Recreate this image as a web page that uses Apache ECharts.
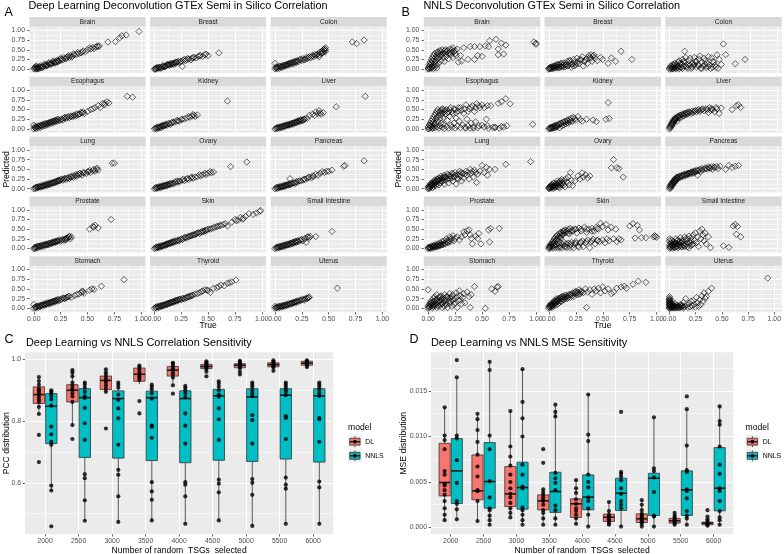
<!DOCTYPE html>
<html><head><meta charset="utf-8">
<script src="https://cdn.jsdelivr.net/npm/echarts@6/dist/echarts.min.js"></script>
<style>html,body{margin:0;padding:0;background:#fff}#c{width:784px;height:554px}</style>
</head><body><div id="c"></div>
<script>
// ---------------- DATA ----------------
const tissues = ['Brain','Breast','Colon','Esophagus','Kidney','Liver','Lung','Ovary','Pancreas','Prostate','Skin','Small Intestine','Stomach','Thyroid','Uterus'];
const unitTicks = [0, 0.25, 0.5, 0.75, 1];

// Panel A: Deep Learning predicted vs true
const dl_Brain = [[0,0.01],[0.01,0.02],[0.02,0],[0.02,0.03],[0.02,0.08],[0.03,0.01],[0.04,0.04],[0.05,0.02],[0.05,0.06],[0.06,0.05],[0.07,0.03],[0.08,0.08],[0.09,0.06],[0.1,0.1],[0.11,0.08],[0.12,0.12],[0.13,0.1],[0.14,0.14],[0.15,0.12],[0.16,0.16],[0.17,0.14],[0.18,0.18],[0.19,0.16],[0.2,0.2],[0.21,0.18],[0.22,0.23],[0.23,0.2],[0.24,0.25],[0.25,0.22],[0.26,0.26],[0.27,0.24],[0.28,0.3],[0.3,0.27],[0.31,0.31],[0.33,0.3],[0.34,0.35],[0.36,0.33],[0.38,0.37],[0.4,0.38],[0.42,0.4],[0.44,0.42],[0.46,0.47],[0.48,0.45],[0.5,0.5],[0.53,0.52],[0.55,0.56],[0.58,0.57],[0.6,0.58],[0.69,0.7],[0.76,0.71],[0.8,0.81],[0.82,0.86],[0.86,0.88],[0.98,0.97],[0.01,0.05],[0.03,0.06],[0.04,0.01],[0.06,0.08],[0.08,0.04],[0.1,0.13],[0.12,0.09],[0.14,0.17],[0.16,0.13],[0.18,0.21],[0.2,0.16],[0.22,0.19],[0.25,0.28],[0.29,0.27],[0.32,0.34],[0.35,0.31],[0.37,0.39],[0.41,0.43],[0.45,0.44],[0.52,0.55],[0.56,0.53],[0.59,0.6],[0.61,0.6]];
const dl_Breast = [[0,0],[0.01,0.02],[0.02,0.01],[0.03,0.03],[0.04,0.02],[0.05,0.04],[0.06,0.05],[0.07,0.04],[0.08,0.07],[0.09,0.06],[0.1,0.08],[0.11,0.09],[0.12,0.1],[0.13,0.11],[0.14,0.1],[0.15,0.13],[0.16,0.12],[0.17,0.14],[0.18,0.15],[0.19,0.17],[0.2,0.15],[0.21,0.18],[0.22,0.2],[0.23,0.17],[0.25,0.21],[0.26,0.07],[0.27,0.23],[0.29,0.22],[0.3,0.25],[0.32,0.26],[0.34,0.24],[0.35,0.28],[0.37,0.3],[0.39,0.29],[0.41,0.33],[0.43,0.35],[0.45,0.33],[0.47,0.37],[0.5,0.35],[0.6,0.42],[0.01,0],[0.02,0.04],[0.04,0.05],[0.06,0.02],[0.08,0.09],[0.1,0.06],[0.12,0.12],[0.14,0.13],[0.16,0.15],[0.18,0.12],[0.2,0.18],[0.24,0.19],[0.28,0.25],[0.31,0.27],[0.36,0.3],[0.42,0.34],[0.48,0.39]];
const dl_Colon = [[0,0.01],[0,0.15],[0.01,0.03],[0.02,0.01],[0.03,0.05],[0.04,0.02],[0.05,0.07],[0.06,0.04],[0.07,0.08],[0.08,0.06],[0.09,0.1],[0.1,0.08],[0.11,0.12],[0.12,0.1],[0.13,0.14],[0.14,0.12],[0.15,0.16],[0.16,0.13],[0.17,0.18],[0.18,0.15],[0.19,0.2],[0.2,0.17],[0.21,0.22],[0.22,0.19],[0.23,0.24],[0.25,0.22],[0.26,0.27],[0.28,0.25],[0.29,0.3],[0.3,0.27],[0.32,0.32],[0.33,0.29],[0.35,0.35],[0.36,0.32],[0.37,0.38],[0.38,0.35],[0.4,0.4],[0.41,0.36],[0.42,0.44],[0.43,0.4],[0.44,0.47],[0.45,0.43],[0.46,0.52],[0.46,0.48],[0.47,0.55],[0.47,0.5],[0.41,0.32],[0.72,0.7],[0.76,0.66],[0.83,0.75],[0.01,0.06],[0.02,0.04],[0.04,0.07],[0.06,0.07],[0.08,0.1],[0.1,0.11],[0.12,0.13],[0.14,0.16],[0.16,0.17],[0.18,0.19],[0.2,0.21],[0.24,0.26],[0.27,0.24],[0.31,0.3],[0.34,0.33],[0.39,0.37],[0.44,0.42],[0.45,0.5],[0.47,0.45]];
const dl_Esophagus = [[0,0],[0,0.1],[0.01,0.03],[0.02,0.01],[0.03,0.05],[0.04,0.02],[0.05,0.07],[0.06,0.04],[0.07,0.09],[0.08,0.06],[0.09,0.11],[0.1,0.08],[0.11,0.13],[0.12,0.1],[0.13,0.15],[0.14,0.12],[0.15,0.17],[0.16,0.14],[0.17,0.19],[0.18,0.16],[0.19,0.21],[0.2,0.18],[0.21,0.22],[0.22,0.2],[0.23,0.24],[0.24,0.21],[0.26,0.26],[0.27,0.23],[0.28,0.28],[0.3,0.27],[0.31,0.3],[0.33,0.29],[0.34,0.32],[0.36,0.31],[0.37,0.34],[0.39,0.33],[0.41,0.36],[0.43,0.39],[0.45,0.41],[0.47,0.4],[0.5,0.45],[0.53,0.5],[0.57,0.55],[0.6,0.6],[0.62,0.55],[0.64,0.66],[0.66,0.62],[0.68,0.7],[0.7,0.67],[0.87,0.84],[0.92,0.82],[0.01,0.06],[0.02,0.05],[0.04,0.08],[0.06,0.09],[0.08,0.11],[0.1,0.13],[0.12,0.14],[0.14,0.16],[0.16,0.18],[0.18,0.2],[0.2,0.22],[0.22,0.25],[0.25,0.24],[0.29,0.3],[0.32,0.32],[0.35,0.33],[0.38,0.36],[0.4,0.39],[0.42,0.38],[0.44,0.43],[0.46,0.44],[0.55,0.52],[0.66,0.66]];
const dl_Kidney = [[0,0],[0.01,0.02],[0.02,0],[0.03,0.04],[0.04,0.02],[0.05,0.05],[0.06,0.03],[0.07,0.08],[0.08,0.06],[0.09,0.1],[0.1,0.08],[0.11,0.12],[0.12,0.1],[0.13,0.14],[0.15,0.12],[0.16,0.16],[0.18,0.17],[0.2,0.19],[0.21,0.22],[0.23,0.2],[0.25,0.24],[0.28,0.26],[0.3,0.28],[0.33,0.3],[0.35,0.33],[0.37,0.35],[0.38,0.32],[0.4,0.36],[0.68,0.72],[0.02,0.04],[0.04,0.05],[0.06,0.07],[0.08,0.09],[0.1,0.11],[0.14,0.13],[0.17,0.18],[0.22,0.21],[0.26,0.25],[0.32,0.32],[0.36,0.37]];
const dl_Liver = [[0,0],[0.01,0.02],[0.02,0.01],[0.03,0.03],[0.04,0.02],[0.05,0.05],[0.06,0.03],[0.07,0.06],[0.08,0.05],[0.09,0.08],[0.1,0.07],[0.11,0.1],[0.12,0.09],[0.13,0.11],[0.14,0.1],[0.15,0.13],[0.16,0.12],[0.17,0.15],[0.18,0.14],[0.19,0.17],[0.2,0.16],[0.21,0.18],[0.22,0.2],[0.23,0.19],[0.24,0.22],[0.25,0.21],[0.26,0.24],[0.27,0.25],[0.3,0.27],[0.32,0.35],[0.35,0.38],[0.37,0.35],[0.4,0.4],[0.42,0.41],[0.43,0.38],[0.45,0.42],[0.57,0.57],[0.84,0.84],[0.02,0.04],[0.04,0.05],[0.06,0.06],[0.08,0.08],[0.1,0.1],[0.12,0.11],[0.14,0.13],[0.16,0.15],[0.18,0.17],[0.2,0.19],[0.22,0.22],[0.24,0.24],[0.26,0.22],[0.28,0.26],[0.38,0.44],[0.41,0.47]];
const dl_Lung = [[0,0],[0.01,0.02],[0.02,0.01],[0.03,0.04],[0.04,0.02],[0.05,0.05],[0.06,0.04],[0.07,0.06],[0.08,0.05],[0.09,0.08],[0.1,0.07],[0.11,0.1],[0.12,0.08],[0.13,0.12],[0.14,0.1],[0.15,0.13],[0.16,0.12],[0.17,0.15],[0.18,0.14],[0.19,0.17],[0.2,0.16],[0.21,0.19],[0.22,0.18],[0.23,0.21],[0.24,0.2],[0.25,0.23],[0.27,0.22],[0.28,0.25],[0.3,0.24],[0.31,0.27],[0.33,0.26],[0.35,0.3],[0.37,0.29],[0.38,0.33],[0.4,0.32],[0.42,0.36],[0.44,0.38],[0.45,0.35],[0.47,0.41],[0.49,0.39],[0.51,0.44],[0.53,0.42],[0.55,0.47],[0.57,0.45],[0.58,0.5],[0.6,0.48],[0.73,0.66],[0.75,0.66],[0.02,0.04],[0.04,0.05],[0.06,0.07],[0.08,0.08],[0.1,0.1],[0.12,0.11],[0.14,0.13],[0.16,0.15],[0.18,0.16],[0.2,0.18],[0.22,0.21],[0.24,0.22],[0.26,0.25],[0.29,0.27],[0.32,0.29],[0.34,0.31],[0.36,0.33],[0.39,0.36],[0.41,0.38],[0.43,0.4],[0.46,0.42],[0.5,0.44],[0.52,0.47],[0.56,0.5],[0.59,0.53]];
const dl_Ovary = [[0,0],[0.01,0.02],[0.02,0.01],[0.03,0.03],[0.04,0.02],[0.05,0.05],[0.06,0.03],[0.07,0.06],[0.08,0.05],[0.09,0.08],[0.1,0.07],[0.11,0.09],[0.12,0.08],[0.13,0.11],[0.14,0.1],[0.15,0.12],[0.17,0.14],[0.18,0.13],[0.2,0.16],[0.21,0.2],[0.22,0.17],[0.24,0.19],[0.26,0.22],[0.28,0.21],[0.3,0.25],[0.32,0.24],[0.34,0.28],[0.36,0.27],[0.38,0.3],[0.4,0.31],[0.43,0.33],[0.45,0.36],[0.48,0.37],[0.5,0.4],[0.53,0.41],[0.55,0.43],[0.71,0.57],[0.86,0.69],[0.02,0.04],[0.04,0.05],[0.06,0.06],[0.08,0.08],[0.1,0.09],[0.12,0.11],[0.14,0.13],[0.16,0.13],[0.19,0.18],[0.23,0.2],[0.27,0.25],[0.31,0.27],[0.35,0.3],[0.42,0.36],[0.47,0.4],[0.52,0.44]];
const dl_Pancreas = [[0,0],[0.01,0.02],[0.02,0.01],[0.03,0.03],[0.04,0.02],[0.05,0.05],[0.06,0.04],[0.07,0.06],[0.08,0.05],[0.09,0.08],[0.1,0.07],[0.11,0.1],[0.12,0.09],[0.13,0.11],[0.14,0.1],[0.14,0.26],[0.15,0.13],[0.16,0.12],[0.18,0.15],[0.19,0.14],[0.2,0.17],[0.22,0.19],[0.24,0.2],[0.26,0.22],[0.28,0.24],[0.3,0.27],[0.32,0.3],[0.34,0.28],[0.36,0.32],[0.38,0.37],[0.4,0.35],[0.42,0.4],[0.46,0.42],[0.5,0.45],[0.53,0.48],[0.64,0.58],[0.65,0.6],[0.83,0.72],[0.02,0.04],[0.04,0.05],[0.06,0.06],[0.08,0.08],[0.1,0.09],[0.12,0.11],[0.14,0.13],[0.17,0.15],[0.2,0.19],[0.23,0.21],[0.27,0.25],[0.31,0.29],[0.35,0.33],[0.44,0.44],[0.48,0.45]];
const dl_Prostate = [[0,0],[0.01,0.03],[0.02,0.01],[0.03,0.05],[0.04,0.02],[0.05,0.06],[0.06,0.04],[0.07,0.07],[0.08,0.05],[0.09,0.09],[0.1,0.07],[0.11,0.1],[0.12,0.09],[0.13,0.12],[0.14,0.1],[0.15,0.14],[0.16,0.12],[0.17,0.15],[0.18,0.14],[0.19,0.17],[0.2,0.16],[0.21,0.19],[0.22,0.18],[0.23,0.2],[0.25,0.19],[0.26,0.22],[0.28,0.21],[0.29,0.24],[0.3,0.22],[0.31,0.26],[0.32,0.28],[0.33,0.3],[0.34,0.25],[0.52,0.5],[0.55,0.57],[0.57,0.6],[0.6,0.53],[0.72,0.75],[0.01,0],[0.02,0.04],[0.04,0.06],[0.06,0.07],[0.08,0.09],[0.1,0.1],[0.12,0.11],[0.14,0.13],[0.16,0.15],[0.18,0.17],[0.2,0.18],[0.22,0.2],[0.24,0.22],[0.27,0.24],[0.3,0.27],[0.33,0.32],[0.35,0.3],[0.56,0.55]];
const dl_Skin = [[0,0],[0.01,0.02],[0.02,0.01],[0.03,0.04],[0.04,0.02],[0.05,0.05],[0.06,0.04],[0.07,0.07],[0.08,0.06],[0.09,0.09],[0.1,0.08],[0.11,0.11],[0.12,0.1],[0.13,0.13],[0.14,0.12],[0.15,0.15],[0.16,0.14],[0.17,0.17],[0.18,0.16],[0.19,0.2],[0.2,0.18],[0.22,0.22],[0.23,0.2],[0.25,0.25],[0.26,0.23],[0.28,0.28],[0.3,0.27],[0.32,0.31],[0.34,0.33],[0.36,0.35],[0.38,0.36],[0.4,0.4],[0.42,0.39],[0.44,0.43],[0.46,0.44],[0.48,0.47],[0.5,0.5],[0.53,0.52],[0.56,0.55],[0.59,0.58],[0.62,0.6],[0.66,0.64],[0.68,0.58],[0.72,0.68],[0.75,0.75],[0.78,0.73],[0.8,0.8],[0.82,0.76],[0.85,0.83],[0.88,0.9],[0.92,0.88],[0.98,0.96],[0.99,0.98],[0.02,0.04],[0.04,0.05],[0.06,0.07],[0.08,0.08],[0.1,0.1],[0.12,0.12],[0.14,0.14],[0.16,0.16],[0.18,0.18],[0.21,0.2],[0.24,0.23],[0.27,0.26],[0.29,0.29],[0.31,0.3],[0.33,0.32],[0.35,0.34],[0.37,0.36],[0.39,0.38],[0.41,0.41],[0.43,0.42],[0.45,0.45],[0.47,0.46],[0.49,0.48],[0.52,0.5],[0.55,0.53],[0.58,0.56],[0.61,0.59],[0.64,0.62],[0.76,0.72],[0.83,0.78],[0.95,0.92]];
const dl_SmallIntestine = [[0,0],[0.01,0.02],[0.02,0.01],[0.03,0.04],[0.04,0.02],[0.05,0.05],[0.06,0.04],[0.07,0.07],[0.08,0.05],[0.09,0.09],[0.1,0.07],[0.11,0.1],[0.12,0.09],[0.13,0.12],[0.14,0.1],[0.15,0.14],[0.16,0.12],[0.17,0.16],[0.18,0.14],[0.19,0.18],[0.2,0.16],[0.21,0.2],[0.22,0.18],[0.24,0.21],[0.26,0.2],[0.28,0.26],[0.29,0.16],[0.3,0.3],[0.32,0.28],[0.38,0.31],[0.53,0.44],[0.02,0.04],[0.04,0.05],[0.06,0.06],[0.08,0.08],[0.1,0.1],[0.12,0.11],[0.14,0.13],[0.16,0.15],[0.18,0.17],[0.2,0.19],[0.23,0.22],[0.25,0.24],[0.31,0.3],[0.33,0.31]];
const dl_Stomach = [[0,0],[0,0.1],[0.01,0.03],[0.02,0.01],[0.03,0.05],[0.04,0.02],[0.05,0.06],[0.06,0.04],[0.07,0.08],[0.08,0.06],[0.09,0.1],[0.1,0.08],[0.11,0.12],[0.12,0.1],[0.13,0.14],[0.14,0.11],[0.15,0.15],[0.16,0.13],[0.17,0.17],[0.18,0.15],[0.19,0.19],[0.2,0.17],[0.21,0.21],[0.22,0.19],[0.23,0.23],[0.24,0.2],[0.26,0.24],[0.28,0.26],[0.3,0.27],[0.32,0.3],[0.35,0.29],[0.38,0.33],[0.42,0.37],[0.44,0.41],[0.45,0.44],[0.47,0.39],[0.52,0.47],[0.54,0.5],[0.56,0.49],[0.63,0.57],[0.84,0.74],[0.02,0.04],[0.04,0.06],[0.06,0.07],[0.08,0.09],[0.1,0.11],[0.12,0.12],[0.14,0.14],[0.16,0.16],[0.18,0.18],[0.2,0.2],[0.22,0.22],[0.25,0.23],[0.27,0.27],[0.29,0.25],[0.31,0.29],[0.33,0.31],[0.4,0.36],[0.46,0.43]];
const dl_Thyroid = [[0,0],[0.01,0.02],[0.02,0.01],[0.03,0.04],[0.04,0.02],[0.05,0.06],[0.06,0.04],[0.07,0.07],[0.08,0.06],[0.09,0.09],[0.1,0.08],[0.11,0.11],[0.12,0.1],[0.13,0.13],[0.14,0.12],[0.15,0.15],[0.16,0.14],[0.17,0.17],[0.18,0.16],[0.19,0.19],[0.2,0.18],[0.21,0.21],[0.22,0.2],[0.23,0.23],[0.25,0.22],[0.26,0.25],[0.28,0.24],[0.3,0.28],[0.32,0.3],[0.34,0.32],[0.36,0.34],[0.38,0.37],[0.4,0.38],[0.42,0.4],[0.44,0.43],[0.47,0.48],[0.5,0.46],[0.52,0.41],[0.55,0.52],[0.58,0.53],[0.62,0.6],[0.65,0.58],[0.68,0.65],[0.7,0.66],[0.72,0.68],[0.76,0.73],[0.02,0.04],[0.04,0.05],[0.06,0.07],[0.08,0.08],[0.1,0.1],[0.12,0.12],[0.14,0.14],[0.16,0.16],[0.18,0.18],[0.2,0.2],[0.22,0.22],[0.24,0.24],[0.27,0.26],[0.29,0.27],[0.31,0.29],[0.33,0.31],[0.35,0.33],[0.45,0.45],[0.49,0.47],[0.6,0.56]];
const dl_Uterus = [[0,0],[0,0.05],[0.01,0.02],[0.02,0.01],[0.03,0.04],[0.04,0.02],[0.05,0.05],[0.06,0.03],[0.07,0.07],[0.08,0.05],[0.09,0.08],[0.1,0.06],[0.11,0.1],[0.12,0.08],[0.13,0.12],[0.14,0.1],[0.15,0.13],[0.16,0.12],[0.17,0.15],[0.18,0.14],[0.19,0.17],[0.2,0.16],[0.21,0.19],[0.22,0.18],[0.24,0.2],[0.25,0.22],[0.27,0.21],[0.28,0.24],[0.3,0.25],[0.31,0.27],[0.32,0.29],[0.58,0.52],[0.02,0.04],[0.04,0.05],[0.06,0.06],[0.08,0.07],[0.1,0.09],[0.12,0.1],[0.14,0.12],[0.16,0.14],[0.18,0.16],[0.2,0.18],[0.23,0.21],[0.26,0.24],[0.29,0.26],[0.31,0.28]];

// Panel B: NNLS predicted vs true
const nnls_Brain = [[0,0],[0,0.03],[0.01,0.06],[0.01,0.01],[0.02,0.1],[0.02,0.03],[0.03,0.15],[0.03,0.05],[0.04,0.2],[0.04,0.08],[0.05,0.12],[0.05,0.25],[0.06,0.18],[0.06,0.05],[0.07,0.3],[0.07,0.22],[0.08,0.1],[0.08,0.35],[0.09,0.27],[0.1,0.4],[0.1,0.15],[0.11,0.33],[0.12,0.45],[0.12,0.22],[0.13,0.38],[0.14,0.3],[0.15,0.47],[0.15,0.2],[0.16,0.4],[0.17,0.33],[0.18,0.48],[0.19,0.27],[0.2,0.43],[0.21,0.37],[0.22,0.5],[0.23,0.3],[0.24,0.45],[0.25,0.4],[0.27,0.52],[0.28,0.18],[0.3,0.35],[0.31,0.21],[0.33,0.55],[0.37,0.25],[0.39,0.58],[0.43,0.25],[0.43,0.58],[0.46,0.35],[0.48,0.58],[0.5,0.33],[0.53,0.6],[0.56,0.58],[0.57,0.73],[0.63,0.77],[0.65,0.52],[0.65,0.37],[0.68,0.67],[0.7,0.39],[0.72,0.62],[0.98,0.7],[1,0.64],[1,0.67],[0.01,0.12],[0.02,0.18],[0.03,0.25],[0.04,0.3],[0.05,0.35],[0.06,0.4],[0.07,0.12],[0.08,0.42],[0.09,0.45],[0.1,0.3],[0.11,0.48],[0.12,0.35],[0.13,0.5],[0.14,0.42],[0.16,0.5],[0.17,0.45],[0.19,0.4],[0.2,0.52],[0.22,0.44],[0.23,0.55],[0.25,0.48],[0.26,0.35],[0.03,0.02],[0.05,0.01],[0.08,0.03]];
const nnls_Breast = [[0,0],[0,0.02],[0.01,0.04],[0.02,0.01],[0.03,0.06],[0.04,0.02],[0.05,0.08],[0.06,0.03],[0.07,0.1],[0.08,0.05],[0.09,0.12],[0.1,0.04],[0.11,0.14],[0.12,0.07],[0.13,0.1],[0.14,0.16],[0.15,0.06],[0.16,0.12],[0.17,0.2],[0.18,0.09],[0.19,0.15],[0.2,0.22],[0.21,0.05],[0.22,0.13],[0.23,0.25],[0.24,0.18],[0.25,0.1],[0.26,0.28],[0.27,0.2],[0.28,0.14],[0.3,0.24],[0.31,0.32],[0.32,0.08],[0.33,0.2],[0.35,0.27],[0.36,0.15],[0.37,0.35],[0.38,0.3],[0.39,0.37],[0.4,0.2],[0.41,0.34],[0.43,0.28],[0.45,0.22],[0.48,0.3],[0.5,0.25],[0.55,0.15],[0.58,0.29],[0.62,0.2],[0.67,0.46],[0.77,0.25],[0.01,0.01],[0.02,0.05],[0.03,0.02],[0.04,0.07],[0.05,0.03],[0.06,0.09],[0.07,0.05],[0.08,0.12],[0.09,0.04],[0.1,0.1],[0.11,0.06],[0.12,0.15],[0.13,0.05],[0.15,0.11],[0.17,0.08],[0.19,0.22],[0.21,0.12],[0.23,0.08],[0.26,0.15],[0.29,0.25],[0.34,0.22],[0.39,0.28],[0.42,0.36]];
const nnls_Colon = [[0,0],[0,0.03],[0.01,0.08],[0.02,0.01],[0.03,0.12],[0.03,0.04],[0.04,0.02],[0.05,0.15],[0.05,0.06],[0.06,0.01],[0.07,0.1],[0.08,0.18],[0.08,0.03],[0.09,0.22],[0.1,0.06],[0.11,0.14],[0.12,0.25],[0.12,0.02],[0.13,0.08],[0.14,0.46],[0.14,0.18],[0.15,0.3],[0.16,0.05],[0.17,0.12],[0.18,0.22],[0.19,0.28],[0.2,0.02],[0.21,0.15],[0.22,0.09],[0.23,0.3],[0.24,0.2],[0.25,0.05],[0.26,0.12],[0.27,0.26],[0.28,0.34],[0.29,0.02],[0.3,0.18],[0.31,0.08],[0.32,0.28],[0.33,0.22],[0.34,0.04],[0.35,0.15],[0.36,0.32],[0.37,0.1],[0.38,0.02],[0.39,0.29],[0.4,0.05],[0.41,0.18],[0.42,0.1],[0.44,0.37],[0.45,0.02],[0.46,0.25],[0.48,0.12],[0.5,0.65],[0.52,0.37],[0.61,0.14],[0.7,0.25],[0.01,0.02],[0.02,0.06],[0.03,0.01],[0.04,0.1],[0.05,0.03],[0.06,0.12],[0.07,0.04],[0.08,0.08],[0.09,0.01],[0.1,0.15],[0.11,0.04],[0.13,0.2],[0.15,0.08],[0.17,0.02],[0.19,0.1],[0.21,0.05],[0.23,0.12],[0.25,0.2],[0.27,0.08],[0.3,0.02],[0.33,0.12],[0.36,0.06],[0.4,0.2],[0.43,0.05]];
const nnls_Esophagus = [[0,0],[0,0.05],[0.01,0.1],[0.01,0.01],[0.02,0.15],[0.02,0.03],[0.03,0.2],[0.03,0.06],[0.04,0.25],[0.04,0.01],[0.05,0.3],[0.05,0.1],[0.06,0.35],[0.06,0.03],[0.07,0.4],[0.07,0.15],[0.08,0.45],[0.08,0.05],[0.09,0.2],[0.09,0.5],[0.1,0.02],[0.1,0.42],[0.11,0.27],[0.11,0.08],[0.12,0.48],[0.12,0.35],[0.13,0.04],[0.13,0.52],[0.14,0.12],[0.14,0.3],[0.15,0.45],[0.15,0.01],[0.16,0.38],[0.17,0.06],[0.17,0.5],[0.18,0.22],[0.19,0.44],[0.19,0.02],[0.2,0.32],[0.21,0.1],[0.21,0.55],[0.22,0.04],[0.23,0.4],[0.24,0.15],[0.25,0.5],[0.25,0.02],[0.26,0.28],[0.27,0.07],[0.28,0.46],[0.29,0.2],[0.3,0.03],[0.3,0.55],[0.32,0.1],[0.33,0.4],[0.34,0.04],[0.35,0.62],[0.36,0.25],[0.37,0.08],[0.38,0.52],[0.39,0.02],[0.4,0.15],[0.41,0.6],[0.42,0.05],[0.43,0.45],[0.44,0.18],[0.45,0.65],[0.46,0.03],[0.47,0.08],[0.48,0.55],[0.5,0.1],[0.5,0.62],[0.52,0.05],[0.54,0.25],[0.55,0.6],[0.56,0.02],[0.58,0.6],[0.6,0.04],[0.62,0.05],[0.65,0.66],[0.66,0.02],[0.68,0.7],[0.7,0.05],[0.72,0.78],[0.73,0.08],[0.76,0.65],[0.97,0.12],[0.02,0.08],[0.03,0.12],[0.04,0.04],[0.05,0.18],[0.06,0.12],[0.07,0.25],[0.08,0.3],[0.1,0.35],[0.11,0.45],[0.12,0.15],[0.13,0.4],[0.14,0.5],[0.16,0.48],[0.18,0.42],[0.2,0.5],[0.22,0.45],[0.24,0.52],[0.26,0.42],[0.28,0.55],[0.31,0.48],[0.34,0.52],[0.37,0.45],[0.4,0.55],[0.44,0.55],[0.47,0.6],[0.52,0.55],[0.35,0.02],[0.42,0.02],[0.55,0.08],[0.62,0.03],[0.68,0.06]];
const nnls_Kidney = [[0,0],[0.01,0.03],[0.02,0.01],[0.03,0.05],[0.04,0.02],[0.05,0.08],[0.06,0.04],[0.07,0.1],[0.08,0.06],[0.09,0.12],[0.1,0.03],[0.11,0.15],[0.12,0.08],[0.13,0.18],[0.14,0.1],[0.15,0.2],[0.16,0.13],[0.17,0.23],[0.18,0.15],[0.19,0.25],[0.2,0.18],[0.21,0.28],[0.22,0.2],[0.23,0.3],[0.25,0.22],[0.27,0.32],[0.29,0.24],[0.31,0.2],[0.35,0.25],[0.41,0.23],[0.44,0.19],[0.53,0.25],[0.56,0.27],[0.55,0.68],[0.01,0.01],[0.02,0.04],[0.03,0.02],[0.04,0.06],[0.05,0.03],[0.06,0.08],[0.07,0.05],[0.08,0.1],[0.1,0.12],[0.12,0.14],[0.14,0.16],[0.16,0.18],[0.18,0.2],[0.2,0.22],[0.24,0.26]];
const nnls_Liver = [[0,0],[0,0.05],[0.01,0.1],[0.01,0.03],[0.02,0.15],[0.02,0.08],[0.03,0.2],[0.03,0.12],[0.04,0.18],[0.04,0.24],[0.05,0.22],[0.05,0.28],[0.06,0.25],[0.07,0.3],[0.07,0.2],[0.08,0.33],[0.09,0.28],[0.1,0.35],[0.11,0.3],[0.12,0.38],[0.13,0.33],[0.14,0.4],[0.15,0.36],[0.16,0.42],[0.17,0.38],[0.18,0.44],[0.2,0.4],[0.21,0.46],[0.22,0.42],[0.24,0.48],[0.25,0.44],[0.27,0.5],[0.28,0.45],[0.3,0.5],[0.32,0.47],[0.34,0.52],[0.36,0.42],[0.37,0.55],[0.38,0.48],[0.4,0.5],[0.42,0.44],[0.44,0.52],[0.46,0.4],[0.48,0.54],[0.58,0.5],[0.62,0.6],[0.64,0.62],[0.66,0.55],[0.01,0.06],[0.02,0.12],[0.03,0.16],[0.04,0.21],[0.05,0.25],[0.06,0.28],[0.08,0.3],[0.09,0.34],[0.11,0.36],[0.13,0.38],[0.15,0.4],[0.17,0.42],[0.19,0.43],[0.23,0.46],[0.26,0.48],[0.29,0.48],[0.31,0.52],[0.35,0.5],[0.39,0.53],[0.43,0.55]];
const nnls_Lung = [[0,0],[0,0.04],[0.01,0.08],[0.01,0.01],[0.02,0.12],[0.02,0.04],[0.03,0.06],[0.03,0.15],[0.04,0.02],[0.04,0.1],[0.05,0.18],[0.05,0.06],[0.06,0.13],[0.06,0.22],[0.07,0.08],[0.07,0.17],[0.08,0.25],[0.08,0.12],[0.09,0.2],[0.1,0.28],[0.1,0.1],[0.11,0.15],[0.12,0.24],[0.12,0.32],[0.13,0.18],[0.14,0.28],[0.15,0.35],[0.15,0.12],[0.16,0.22],[0.17,0.3],[0.18,0.38],[0.19,0.15],[0.2,0.25],[0.21,0.33],[0.22,0.4],[0.23,0.2],[0.24,0.3],[0.25,0.42],[0.26,0.12],[0.27,0.35],[0.28,0.25],[0.29,0.45],[0.3,0.32],[0.31,0.2],[0.32,0.4],[0.33,0.28],[0.35,0.45],[0.36,0.35],[0.38,0.25],[0.39,0.5],[0.4,0.4],[0.42,0.3],[0.43,0.48],[0.45,0.16],[0.46,0.38],[0.48,0.45],[0.5,0.6],[0.52,0.42],[0.54,0.55],[0.55,0.35],[0.57,0.5],[0.62,0.5],[0.72,0.63],[0.95,0.7],[0.01,0.03],[0.02,0.08],[0.03,0.1],[0.04,0.14],[0.05,0.12],[0.06,0.16],[0.07,0.2],[0.08,0.18],[0.09,0.24],[0.1,0.22],[0.11,0.26],[0.12,0.2],[0.13,0.28],[0.14,0.22],[0.15,0.3],[0.16,0.3],[0.18,0.25],[0.19,0.35],[0.2,0.32],[0.22,0.28],[0.23,0.38],[0.25,0.35],[0.27,0.28],[0.29,0.38],[0.31,0.42],[0.34,0.38],[0.37,0.42],[0.41,0.45],[0.44,0.42]];
const nnls_Ovary = [[0,0],[0,0.03],[0.01,0.06],[0.01,0.01],[0.02,0.09],[0.02,0.02],[0.03,0.04],[0.03,0.12],[0.04,0.01],[0.05,0.07],[0.05,0.15],[0.06,0.03],[0.07,0.1],[0.08,0.2],[0.08,0.05],[0.09,0.14],[0.1,0.02],[0.1,0.18],[0.11,0.09],[0.12,0.24],[0.13,0.13],[0.14,0.2],[0.15,0.05],[0.16,0.26],[0.17,0.17],[0.18,0.3],[0.19,0.1],[0.2,0.42],[0.21,0.22],[0.22,0.08],[0.24,0.2],[0.27,0.33],[0.29,0.25],[0.31,0.41],[0.32,0.3],[0.34,0.36],[0.36,0.28],[0.38,0.33],[0.58,0.54],[0.6,0.75],[0.63,0.54],[0.65,0.52],[0.69,0.3],[0.01,0.03],[0.02,0.05],[0.03,0.08],[0.04,0.04],[0.05,0.1],[0.06,0.06],[0.07,0.14],[0.08,0.1],[0.09,0.05],[0.1,0.12],[0.11,0.2],[0.12,0.15],[0.14,0.1]];
const nnls_Pancreas = [[0,0],[0,0.05],[0.01,0.1],[0.01,0.02],[0.02,0.14],[0.02,0.06],[0.03,0.18],[0.03,0.1],[0.04,0.22],[0.04,0.14],[0.05,0.25],[0.05,0.18],[0.06,0.28],[0.06,0.21],[0.07,0.3],[0.08,0.26],[0.09,0.32],[0.1,0.29],[0.11,0.34],[0.12,0.31],[0.13,0.36],[0.14,0.33],[0.15,0.38],[0.16,0.35],[0.17,0.4],[0.18,0.37],[0.19,0.42],[0.2,0.39],[0.21,0.44],[0.22,0.4],[0.23,0.46],[0.24,0.42],[0.25,0.48],[0.26,0.35],[0.27,0.47],[0.28,0.5],[0.29,0.44],[0.3,0.52],[0.32,0.5],[0.33,0.54],[0.35,0.51],[0.36,0.56],[0.38,0.53],[0.39,0.57],[0.4,0.5],[0.42,0.55],[0.45,0.52],[0.47,0.58],[0.52,0.5],[0.55,0.6],[0.58,0.55],[0.61,0.58],[0.64,0.6],[0.01,0.06],[0.02,0.1],[0.03,0.14],[0.04,0.18],[0.05,0.22],[0.06,0.24],[0.07,0.27],[0.08,0.3],[0.1,0.32],[0.12,0.34],[0.14,0.36],[0.16,0.38],[0.18,0.4],[0.2,0.42],[0.22,0.43],[0.24,0.45],[0.26,0.46],[0.3,0.48],[0.34,0.52],[0.37,0.54],[0.41,0.56],[0.44,0.57]];
const nnls_Prostate = [[0,0],[0,0.02],[0.01,0.04],[0.02,0.01],[0.03,0.06],[0.04,0.02],[0.05,0.08],[0.06,0.03],[0.07,0.1],[0.08,0.05],[0.09,0.12],[0.1,0.07],[0.11,0.15],[0.12,0.09],[0.13,0.18],[0.14,0.1],[0.15,0.2],[0.16,0.12],[0.17,0.25],[0.18,0.15],[0.19,0.22],[0.2,0.3],[0.21,0.18],[0.22,0.26],[0.23,0.33],[0.24,0.2],[0.25,0.26],[0.27,0.3],[0.29,0.22],[0.31,0.3],[0.33,0.43],[0.34,0.35],[0.36,0.46],[0.38,0.48],[0.39,0.35],[0.4,0.26],[0.41,0.12],[0.44,0.32],[0.46,0.26],[0.47,0.39],[0.49,0.12],[0.56,0.48],[0.58,0.52],[0.57,0.17],[0.66,0.52],[0.01,0.02],[0.02,0.03],[0.03,0.02],[0.04,0.05],[0.05,0.04],[0.06,0.06],[0.07,0.05],[0.08,0.08],[0.09,0.06],[0.1,0.1],[0.11,0.08],[0.12,0.12],[0.13,0.1],[0.15,0.14],[0.17,0.18],[0.19,0.16],[0.21,0.24]];
const nnls_Skin = [[0,0],[0,0.04],[0.01,0.08],[0.01,0.01],[0.02,0.12],[0.02,0.03],[0.03,0.16],[0.03,0.05],[0.04,0.2],[0.04,0.01],[0.05,0.25],[0.05,0.08],[0.06,0.28],[0.06,0.03],[0.07,0.32],[0.07,0.1],[0.08,0.35],[0.08,0.02],[0.09,0.3],[0.09,0.12],[0.1,0.38],[0.1,0.05],[0.11,0.42],[0.11,0.14],[0.12,0.35],[0.12,0.02],[0.13,0.45],[0.13,0.1],[0.14,0.4],[0.14,0.16],[0.15,0.48],[0.15,0.06],[0.16,0.12],[0.17,0.45],[0.17,0.03],[0.18,0.5],[0.18,0.14],[0.19,0.38],[0.2,0.08],[0.2,0.52],[0.21,0.16],[0.22,0.45],[0.23,0.02],[0.24,0.12],[0.24,0.5],[0.25,0.18],[0.26,0.4],[0.27,0.06],[0.28,0.53],[0.29,0.15],[0.3,0.45],[0.31,0.2],[0.32,0.05],[0.33,0.55],[0.34,0.14],[0.35,0.42],[0.36,0.22],[0.37,0.5],[0.38,0.02],[0.39,0.17],[0.4,0.52],[0.41,0.24],[0.42,0.45],[0.43,0.12],[0.44,0.55],[0.45,0.2],[0.46,0.5],[0.47,0.18],[0.48,0.65],[0.5,0.22],[0.5,0.57],[0.52,0.15],[0.53,0.62],[0.54,0.25],[0.55,0.48],[0.56,0.2],[0.58,0.55],[0.6,0.25],[0.62,0.5],[0.63,0.18],[0.65,0.25],[0.67,0.22],[0.75,0.58],[0.78,0.64],[0.8,0.27],[0.82,0.6],[0.84,0.48],[0.86,0.28],[0.9,0.28],[0.97,0.3],[0.98,0.33],[0.99,0.31],[1,0.29],[0.01,0.04],[0.02,0.07],[0.03,0.1],[0.04,0.12],[0.05,0.15],[0.06,0.18],[0.07,0.22],[0.08,0.25],[0.09,0.2],[0.1,0.3],[0.11,0.28],[0.12,0.4],[0.13,0.35],[0.14,0.45],[0.16,0.42],[0.18,0.4],[0.2,0.45],[0.22,0.48],[0.25,0.5],[0.3,0.5],[0.35,0.5],[0.4,0.45],[0.45,0.52],[0.2,0.12],[0.25,0.14],[0.3,0.16],[0.35,0.18],[0.4,0.2],[0.45,0.22],[0.1,0.02],[0.15,0.03],[0.2,0.02],[0.28,0.03]];
const nnls_SmallIntestine = [[0,0],[0,0.05],[0,0.1],[0,0.2],[0,0.25],[0.01,0.02],[0.01,0.15],[0.02,0.08],[0.02,0.22],[0.03,0.01],[0.03,0.12],[0.04,0.05],[0.04,0.18],[0.05,0.1],[0.05,0.02],[0.06,0.14],[0.06,0.25],[0.07,0.06],[0.07,0.2],[0.08,0.12],[0.08,0.02],[0.09,0.18],[0.1,0.08],[0.1,0.28],[0.11,0.15],[0.12,0.04],[0.12,0.22],[0.13,0.12],[0.14,0.3],[0.14,0.06],[0.15,0.2],[0.16,0.1],[0.17,0.25],[0.18,0.02],[0.18,0.32],[0.19,0.15],[0.2,0.28],[0.21,0.1],[0.22,0.35],[0.23,0.2],[0.24,0.4],[0.25,0.15],[0.26,0.3],[0.27,0.05],[0.28,0.45],[0.29,0.25],[0.3,0.5],[0.31,0.35],[0.32,0.2],[0.33,0.4],[0.34,0.12],[0.36,0.3],[0.38,0.02],[0.5,0.07],[0.55,0.03],[0.59,0.58],[0.61,0.62],[0.63,0.57],[0.62,0.37],[0.66,0.3],[0.01,0.05],[0.02,0.12],[0.03,0.06],[0.04,0.1],[0.05,0.15],[0.06,0.04],[0.07,0.12],[0.08,0.22],[0.09,0.06],[0.1,0.15],[0.11,0.05],[0.12,0.18],[0.13,0.08],[0.15,0.25],[0.16,0.04],[0.17,0.15],[0.19,0.08],[0.2,0.2],[0.22,0.12]];
const nnls_Stomach = [[0,0],[0,0.05],[0,0.48],[0.01,0.1],[0.01,0.02],[0.02,0.15],[0.02,0.04],[0.03,0.2],[0.03,0.08],[0.04,0.01],[0.04,0.12],[0.05,0.25],[0.05,0.05],[0.06,0.18],[0.06,0.3],[0.07,0.08],[0.07,0.22],[0.08,0.02],[0.08,0.35],[0.09,0.15],[0.1,0.28],[0.1,0.05],[0.11,0.2],[0.12,0.32],[0.12,0.1],[0.13,0.02],[0.13,0.25],[0.14,0.15],[0.15,0.35],[0.15,0.06],[0.16,0.22],[0.17,0.3],[0.17,0.1],[0.18,0.02],[0.19,0.25],[0.2,0.38],[0.2,0.12],[0.21,0.18],[0.22,0.05],[0.22,0.3],[0.23,0.35],[0.24,0.1],[0.25,0.25],[0.26,0.4],[0.27,0.02],[0.28,0.2],[0.29,0.45],[0.3,0.32],[0.31,0.12],[0.33,0.38],[0.34,0.14],[0.36,0.42],[0.38,0.3],[0.39,0.02],[0.4,0.35],[0.43,0.56],[0.53,0],[0.59,0.5],[0.62,0.44],[0.64,0.55],[0.65,0.56],[0.01,0.05],[0.02,0.1],[0.03,0.14],[0.04,0.06],[0.05,0.18],[0.06,0.1],[0.07,0.14],[0.08,0.22],[0.09,0.08],[0.1,0.18],[0.11,0.3],[0.12,0.22],[0.13,0.12],[0.14,0.28],[0.15,0.2],[0.16,0.12],[0.18,0.3],[0.19,0.18],[0.21,0.28],[0.23,0.22],[0.25,0.15],[0.27,0.3],[0.3,0.22],[0.32,0.28]];
const nnls_Thyroid = [[0,0],[0,0.04],[0.01,0.02],[0.01,0.08],[0.02,0.05],[0.02,0.12],[0.03,0.02],[0.03,0.1],[0.04,0.15],[0.04,0.06],[0.05,0.12],[0.05,0.2],[0.06,0.08],[0.06,0.18],[0.07,0.15],[0.07,0.24],[0.08,0.1],[0.08,0.2],[0.09,0.26],[0.1,0.15],[0.1,0.22],[0.11,0.28],[0.12,0.18],[0.12,0.25],[0.13,0.3],[0.14,0.22],[0.15,0.28],[0.16,0.34],[0.17,0.25],[0.18,0.32],[0.19,0.36],[0.2,0.28],[0.21,0.35],[0.22,0.4],[0.23,0.3],[0.24,0.38],[0.25,0.44],[0.26,0.35],[0.27,0.42],[0.28,0.48],[0.29,0.38],[0.3,0.45],[0.32,0.4],[0.34,0.5],[0.35,0.02],[0.36,0.42],[0.38,0.48],[0.4,0.36],[0.42,0.5],[0.44,0.45],[0.46,0.52],[0.48,0.4],[0.5,0.55],[0.52,0.45],[0.55,0.5],[0.58,0.38],[0.6,0.42],[0.63,0.52],[0.67,0.55],[0.7,0.57],[0.72,0.52],[0.78,0.62],[0.83,0.7],[0.9,0.67],[0.01,0.05],[0.02,0.08],[0.03,0.06],[0.04,0.1],[0.05,0.16],[0.06,0.14],[0.07,0.2],[0.08,0.17],[0.09,0.22],[0.1,0.26],[0.11,0.2],[0.12,0.3],[0.13,0.25],[0.14,0.32],[0.15,0.25],[0.16,0.3],[0.18,0.28],[0.2,0.35],[0.22,0.33],[0.24,0.42],[0.26,0.4],[0.28,0.36],[0.3,0.42]];
const nnls_Uterus = [[0,0],[0,0.03],[0,0.06],[0,0.1],[0,0.14],[0,0.18],[0,0.22],[0,0.26],[0,0.3],[0.01,0.02],[0.01,0.08],[0.01,0.15],[0.02,0.01],[0.02,0.05],[0.02,0.2],[0.03,0.03],[0.03,0.1],[0.04,0.01],[0.04,0.06],[0.05,0.02],[0.05,0.12],[0.06,0.04],[0.07,0.01],[0.07,0.08],[0.08,0.03],[0.09,0.05],[0.1,0.02],[0.1,0.1],[0.11,0.04],[0.12,0.07],[0.13,0.01],[0.13,0.15],[0.14,0.05],[0.15,0.25],[0.16,0.08],[0.17,0.02],[0.18,0.12],[0.19,0.04],[0.2,0.18],[0.21,0.06],[0.22,0.2],[0.23,0.1],[0.24,0.03],[0.25,0.28],[0.26,0.14],[0.27,0.05],[0.28,0.22],[0.29,0.1],[0.3,0.32],[0.31,0.18],[0.32,0.4],[0.33,0.26],[0.34,0.3],[0.36,0.44],[0.39,0.52],[0.91,0.78],[0,0.01],[0,0.08],[0,0.12],[0,0.16],[0,0.2],[0,0.24],[0.01,0.05],[0.01,0.11],[0.02,0.03],[0.02,0.12],[0.03,0.06],[0.04,0.03],[0.05,0.07],[0.06,0.02],[0.08,0.06],[0.09,0.02],[0.11,0.08],[0.12,0.03]];

// Panels C & D
const tsgCounts = ['2000','2500','3000','3500','4000','4500','5000','5500','6000'];
const modelNames = ['DL','NNLS'];
// box stats: [lower whisker, Q1, median, Q3, upper whisker]
const pccBoxDL = [[0.823,0.857,0.886,0.911,0.943],[0.787,0.862,0.9,0.918,0.965],[0.89,0.902,0.932,0.946,0.968],[0.92,0.929,0.952,0.972,0.98],[0.916,0.946,0.965,0.977,0.989],[0.96,0.97,0.977,0.984,0.994],[0.963,0.973,0.981,0.986,0.995],[0.966,0.976,0.983,0.989,0.997],[0.975,0.981,0.988,0.994,0.997]];
const pccBoxNNLS = [[0.575,0.727,0.848,0.889,0.9],[0.477,0.682,0.876,0.905,0.925],[0.473,0.68,0.873,0.898,0.925],[0.478,0.672,0.876,0.897,0.918],[0.467,0.665,0.873,0.898,0.914],[0.478,0.673,0.882,0.903,0.929],[0.46,0.669,0.878,0.905,0.925],[0.467,0.677,0.884,0.905,0.925],[0.467,0.667,0.882,0.905,0.925]];
const pccPointsDL = [[0.943,0.93,0.918,0.905,0.9,0.893,0.886,0.878,0.87,0.862,0.846,0.823,0.755,0.667],[0.965,0.957,0.945,0.925,0.915,0.905,0.9,0.89,0.88,0.862,0.787,0.742],[0.968,0.958,0.95,0.94,0.932,0.925,0.915,0.905,0.895,0.776],[0.98,0.975,0.968,0.96,0.952,0.945,0.94,0.933,0.865,0.825],[0.989,0.986,0.98,0.972,0.968,0.96,0.952,0.941,0.916,0.889],[0.994,0.99,0.987,0.981,0.976,0.973,0.969,0.96,0.945],[0.995,0.992,0.987,0.984,0.98,0.977,0.971,0.96,0.951],[0.997,0.992,0.987,0.984,0.982,0.979,0.974,0.963],[0.997,0.994,0.99,0.987,0.984,0.98,0.975]];
const pccPointsNNLS = [[0.9,0.895,0.889,0.881,0.87,0.85,0.782,0.757,0.733,0.723,0.591,0.575,0.459],[0.925,0.918,0.908,0.895,0.88,0.875,0.843,0.793,0.739,0.628,0.615,0.543,0.477],[0.925,0.917,0.908,0.886,0.869,0.841,0.809,0.723,0.642,0.626,0.556,0.473],[0.918,0.911,0.903,0.89,0.873,0.785,0.782,0.746,0.602,0.572,0.545,0.478],[0.914,0.908,0.9,0.89,0.878,0.825,0.785,0.727,0.602,0.594,0.556,0.467],[0.929,0.921,0.911,0.9,0.886,0.879,0.841,0.806,0.739,0.61,0.597,0.569,0.478],[0.925,0.918,0.911,0.9,0.89,0.882,0.819,0.803,0.727,0.612,0.6,0.561,0.46],[0.925,0.918,0.911,0.903,0.895,0.884,0.816,0.81,0.742,0.617,0.594,0.581,0.467],[0.925,0.918,0.911,0.903,0.892,0.882,0.81,0.806,0.733,0.604,0.585,0.467]];
const mseBoxDL = [[0.00077,0.00347,0.00494,0.00925,0.0132],[0.00073,0.00304,0.00402,0.00797,0.01247],[0.0011,0.0023,0.00369,0.00669,0.0128],[0.0003,0.00194,0.00293,0.00358,0.0042],[0.0004,0.0011,0.0026,0.00315,0.0052],[0.0003,0.00066,0.00113,0.00146,0.0028],[0.0001,0.00055,0.00095,0.0015,0.003],[0.0003,0.00048,0.00073,0.001,0.0016],[0.0002,0.0003,0.00048,0.00059,0.0009]];
const mseBoxNNLS = [[0.0009,0.00263,0.00622,0.00977,0.01646],[0.0003,0.00212,0.00505,0.00933,0.0182],[0.0003,0.00201,0.00439,0.00717,0.0174],[0.0003,0.00165,0.00395,0.00607,0.01353],[0.0001,0.00194,0.00333,0.00578,0.01463],[0.0001,0.00187,0.00377,0.00541,0.0061],[0.0001,0.00132,0.00541,0.00596,0.0121],[0.0003,0.00132,0.00413,0.00622,0.013],[0.0003,0.00183,0.00432,0.00878,0.0133]];
const msePointsDL = [[0.0132,0.0101,0.0096,0.0086,0.0062,0.0058,0.0048,0.0046,0.0041,0.0036,0.0029,0.0021,0.0014,0.0008],[0.0125,0.0119,0.0107,0.0094,0.008,0.0067,0.0056,0.0041,0.004,0.0029,0.0007],[0.0128,0.0089,0.0078,0.0068,0.0058,0.005,0.0043,0.0037,0.0033,0.0027,0.0021,0.0016,0.0011],[0.0086,0.0071,0.0042,0.0039,0.0036,0.0033,0.003,0.0029,0.0025,0.0019,0.0016,0.001,0.0003],[0.0052,0.0043,0.0038,0.0031,0.0026,0.0021,0.0018,0.0014,0.001,0.0004],[0.0028,0.0018,0.0014,0.0012,0.0011,0.0009,0.0007,0.0005,0.0003],[0.003,0.0025,0.0019,0.0015,0.0013,0.0011,0.0009,0.0007,0.0006,0.0004,0.0001],[0.0016,0.0013,0.0011,0.0009,0.0008,0.0006,0.0005,0.0003],[0.0019,0.0012,0.0009,0.0007,0.0005,0.0004,0.0003,0.0002]];
const msePointsNNLS = [[0.0184,0.0165,0.0101,0.0098,0.0074,0.0049,0.0029,0.0026,0.002,0.0009],[0.0182,0.0173,0.0101,0.0086,0.0051,0.0033,0.0021,0.0019,0.0013,0.0008,0.0003],[0.0174,0.0138,0.012,0.01,0.0069,0.0058,0.0045,0.0043,0.0022,0.0019,0.0014,0.0008,0.0003],[0.0135,0.0127,0.0122,0.006,0.0054,0.0049,0.0041,0.0024,0.0019,0.001,0.0003],[0.0146,0.0102,0.0095,0.0058,0.005,0.0044,0.0033,0.0029,0.0021,0.0014,0.0001],[0.0127,0.0061,0.0059,0.0056,0.0052,0.0043,0.0037,0.0029,0.0025,0.0021,0.0001],[0.0121,0.0065,0.0062,0.0055,0.0039,0.0013,0.0012,0.0001],[0.0144,0.013,0.009,0.0063,0.0061,0.0042,0.004,0.0032,0.0018,0.0013,0.001,0.0003],[0.0133,0.0117,0.0113,0.0089,0.0069,0.0059,0.0043,0.004,0.0029,0.0018,0.0011,0.0008,0.0003]];

// ---------------- LAYOUT / STYLE ----------------
const FONT = 'Liberation Sans, Arial, sans-serif';
const PANEL_BG = '#ebebeb', STRIP_BG = '#d9d9d9';
const AXIS_TXT = '#4d4d4d', TICK_COL = '#333333';
const modelColors = ['#F8766D', '#00BFC4'];
const FACET = { top0: 17, pitchY: 59.8, stripH: 9.5, panelH: 46.5 };
const FX = { min: -0.04, max: 1.04 }, FY = { min: -0.1, max: 1.1 };
const PANEL_A = { left0: 29.5, pitchX: 120.6, width: 116 };
const PANEL_B = { left0: 423.8, pitchX: 120.7, width: 116.5 };
const DODGE = 0.185, BOX_W = 0.34;

const grids = [], xAxes = [], yAxes = [], series = [], graphics = [];
function addGrid(g) { grids.push(Object.assign({ containLabel: false, borderWidth: 0, show: false }, g)); return grids.length - 1; }
function hiddenAxis(gi, min, max) { return { gridIndex: gi, type: 'value', min, max, show: false }; }
function txt(x, y, text, size, opts) {
  const o = Object.assign({ align: 'left', vAlign: 'middle', color: '#000', rotation: 0, weight: 'normal' }, opts || {});
  graphics.push({ type: 'text', x, y, rotation: o.rotation, silent: true, z: 100,
    style: { text, fontSize: size, fontFamily: FONT, fontWeight: o.weight, fill: o.color, textAlign: o.align, textVerticalAlign: o.vAlign, align: o.align, verticalAlign: o.vAlign } });
}
const tickStyle = { show: true, length: 2.2, lineStyle: { color: TICK_COL, width: 0.8 } };

function buildFacets(P, datasets) {
  for (let i = 0; i < datasets.length; i++) {
    const r = Math.floor(i / 3), c = i % 3;
    const L = P.left0 + c * P.pitchX, T = FACET.top0 + r * FACET.pitchY + FACET.stripH;
    const Wd = P.width, Ht = FACET.panelH;
    const px = v => L + (v - FX.min) / (FX.max - FX.min) * Wd;
    const py = v => T + (FY.max - v) / (FY.max - FY.min) * Ht;
    const g0 = addGrid({ left: L, top: T, width: Wd, height: Ht, show: true, backgroundColor: PANEL_BG });
    xAxes.push(hiddenAxis(g0, FX.min, FX.max)); yAxes.push(hiddenAxis(g0, FY.min, FY.max));
    series.push({ type: 'scatter', xAxisIndex: xAxes.length - 1, yAxisIndex: yAxes.length - 1, data: datasets[i],
      symbol: 'diamond', symbolSize: 6.3, clip: false, silent: true, z: 5,
      itemStyle: { color: 'rgba(0,0,0,0)', borderColor: '#000', borderWidth: 0.75 } });
    const g1 = addGrid({ left: px(0), top: T, width: px(1) - px(0), height: Ht });
    xAxes.push({ gridIndex: g1, type: 'value', min: unitTicks[0], max: unitTicks[unitTicks.length - 1], interval: unitTicks[1] - unitTicks[0],
      axisLine: { show: false }, axisTick: Object.assign({}, tickStyle, { show: r === 4 }),
      axisLabel: { show: r === 4, formatter: v => v.toFixed(2), fontSize: 6.9, fontFamily: FONT, color: AXIS_TXT, margin: 3, showMinLabel: true, showMaxLabel: true },
      splitLine: { show: true, lineStyle: { color: '#ffffff', width: 1 } },
      minorTick: { show: false, splitNumber: 2 }, minorSplitLine: { show: true, lineStyle: { color: '#ffffff', width: 0.5 } } });
    yAxes.push(hiddenAxis(g1, 0, 1));
    const g2 = addGrid({ left: L, top: py(1), width: Wd, height: py(0) - py(1) });
    xAxes.push(hiddenAxis(g2, 0, 1));
    yAxes.push({ gridIndex: g2, type: 'value', min: unitTicks[0], max: unitTicks[unitTicks.length - 1], interval: unitTicks[1] - unitTicks[0],
      axisLine: { show: false }, axisTick: Object.assign({}, tickStyle, { show: c === 0 }),
      axisLabel: { show: c === 0, formatter: v => v.toFixed(2), fontSize: 6.9, fontFamily: FONT, color: AXIS_TXT, margin: 4.5, showMinLabel: true, showMaxLabel: true },
      splitLine: { show: true, lineStyle: { color: '#ffffff', width: 1 } },
      minorTick: { show: false, splitNumber: 2 }, minorSplitLine: { show: true, lineStyle: { color: '#ffffff', width: 0.5 } } });
    graphics.push({ type: 'rect', silent: true, z: 1, shape: { x: L, y: T - FACET.stripH, width: Wd, height: FACET.stripH }, style: { fill: STRIP_BG } });
    txt(L + Wd / 2, T - FACET.stripH / 2, tissues[i], 6.6, { align: 'center', color: '#1a1a1a' });
  }
  const lastT = FACET.top0 + 4 * FACET.pitchY + FACET.stripH + FACET.panelH;
  const cx = (P.left0 + P.left0 + 2 * P.pitchX + P.width) / 2;
  const cy = (FACET.top0 + FACET.stripH + lastT) / 2;
  return { cx, cy, bottom: lastT };
}

function boxRenderer(offset, fill) {
  return function (params, api) {
    const x = api.value(0) + offset, hw = BOX_W / 2;
    const pLo = api.coord([x, api.value(1)]), pQ1 = api.coord([x, api.value(2)]), pMed = api.coord([x, api.value(3)]);
    const pQ3 = api.coord([x, api.value(4)]), pHi = api.coord([x, api.value(5)]);
    const xl = api.coord([x - hw, api.value(3)])[0], xr = api.coord([x + hw, api.value(3)])[0];
    return { type: 'group', children: [
      { type: 'line', shape: { x1: pLo[0], y1: pLo[1], x2: pQ1[0], y2: pQ1[1] }, style: { stroke: '#333', lineWidth: 0.8 } },
      { type: 'line', shape: { x1: pQ3[0], y1: pQ3[1], x2: pHi[0], y2: pHi[1] }, style: { stroke: '#333', lineWidth: 0.8 } },
      { type: 'rect', shape: { x: xl, y: pQ3[1], width: xr - xl, height: pQ1[1] - pQ3[1] }, style: { fill, stroke: '#333', lineWidth: 0.8 } },
      { type: 'line', shape: { x1: xl, y1: pMed[1], x2: xr, y2: pMed[1] }, style: { stroke: '#1a1a1a', lineWidth: 1.6 } }
    ] };
  };
}

function buildBoxPanel(cfg) {
  const n = cfg.cats.length;
  const s = cfg.width / (n - 1 + 1.2);
  const cxp = i => cfg.left + (0.6 + i) * s;
  const py = v => cfg.top + (cfg.ymax - v) / (cfg.ymax - cfg.ymin) * cfg.height;
  const g0 = addGrid({ left: cfg.left, top: cfg.top, width: cfg.width, height: cfg.height, show: true, backgroundColor: PANEL_BG });
  xAxes.push(hiddenAxis(g0, -0.6, n - 1 + 0.6)); yAxes.push(hiddenAxis(g0, cfg.ymin, cfg.ymax));
  const xi = xAxes.length - 1, yi = yAxes.length - 1;
  const offsets = [-DODGE, DODGE];
  [cfg.boxDL, cfg.boxNNLS].forEach((boxes, k) => {
    series.push({ type: 'custom', xAxisIndex: xi, yAxisIndex: yi, silent: true, z: 3, clip: false,
      encode: { x: 0, y: [1, 2, 3, 4, 5] }, data: boxes.map((b, i) => [i].concat(b)),
      renderItem: boxRenderer(offsets[k], modelColors[k]) });
  });
  [cfg.ptsDL, cfg.ptsNNLS].forEach((pts, k) => {
    const data = [];
    pts.forEach((arr, i) => arr.forEach(v => data.push([i + offsets[k], v])));
    series.push({ type: 'scatter', xAxisIndex: xi, yAxisIndex: yi, data, symbol: 'circle', symbolSize: 4.2, silent: true, z: 6, clip: false,
      itemStyle: { color: '#000' } });
  });
  const g1 = addGrid({ left: cxp(0), top: cfg.top, width: cxp(n - 1) - cxp(0), height: cfg.height });
  xAxes.push({ gridIndex: g1, type: 'value', min: 0, max: n - 1, interval: 1, axisLine: { show: false }, axisTick: tickStyle,
    axisLabel: { formatter: v => cfg.cats[Math.round(v)], fontSize: 6.9, fontFamily: FONT, color: AXIS_TXT, margin: 3, showMinLabel: true, showMaxLabel: true },
    splitLine: { show: true, lineStyle: { color: '#ffffff', width: 1 } } });
  yAxes.push(hiddenAxis(g1, 0, 1));
  const g2 = addGrid({ left: cfg.left, top: py(cfg.major[1]), width: cfg.width, height: py(cfg.major[0]) - py(cfg.major[1]) });
  xAxes.push(hiddenAxis(g2, 0, 1));
  yAxes.push({ gridIndex: g2, type: 'value', min: cfg.major[0], max: cfg.major[1], interval: cfg.step, axisLine: { show: false }, axisTick: tickStyle,
    axisLabel: { formatter: v => v.toFixed(cfg.digits), fontSize: 6.9, fontFamily: FONT, color: AXIS_TXT, margin: 4, showMinLabel: true, showMaxLabel: true },
    splitLine: { show: true, lineStyle: { color: '#ffffff', width: 1 } } });
  const g3 = addGrid({ left: cfg.left, top: py(cfg.minor[1]), width: cfg.width, height: py(cfg.minor[0]) - py(cfg.minor[1]) });
  xAxes.push(hiddenAxis(g3, 0, 1));
  yAxes.push({ gridIndex: g3, type: 'value', min: cfg.minor[0], max: cfg.minor[1], interval: cfg.step, axisLine: { show: false }, axisTick: { show: false },
    axisLabel: { show: false }, splitLine: { show: true, lineStyle: { color: '#ffffff', width: 0.5 } } });
  const lx = cfg.legendX, ly = cfg.legendY, ks = 13.8;
  txt(lx, ly, 'model', 8.6);
  modelNames.forEach((name, k) => {
    const ky = ly + 6.8 + k * 14.1;
    graphics.push({ type: 'rect', silent: true, z: 50, shape: { x: lx, y: ky, width: ks, height: ks }, style: { fill: '#f2f2f2' } });
    graphics.push({ type: 'line', silent: true, z: 51, shape: { x1: lx + ks / 2, y1: ky + ks * 0.1, x2: lx + ks / 2, y2: ky + ks * 0.9 }, style: { stroke: '#333', lineWidth: 0.8 } });
    graphics.push({ type: 'rect', silent: true, z: 52, shape: { x: lx + ks * 0.125, y: ky + ks * 0.25, width: ks * 0.75, height: ks * 0.5 }, style: { fill: modelColors[k], stroke: '#333', lineWidth: 0.8 } });
    graphics.push({ type: 'line', silent: true, z: 53, shape: { x1: lx + ks * 0.125, y1: ky + ks / 2, x2: lx + ks * 0.875, y2: ky + ks / 2 }, style: { stroke: '#1a1a1a', lineWidth: 1.4 } });
    graphics.push({ type: 'circle', silent: true, z: 54, shape: { cx: lx + ks / 2, cy: ky + ks / 2, r: 1.9 }, style: { fill: '#000' } });
    txt(lx + ks + 3.5, ky + ks / 2, name, 6.9);
  });
  return { cx: cfg.left + cfg.width / 2, cy: cfg.top + cfg.height / 2 };
}

// ---------------- BUILD ----------------
const dlFacetData = [dl_Brain, dl_Breast, dl_Colon, dl_Esophagus, dl_Kidney, dl_Liver, dl_Lung, dl_Ovary, dl_Pancreas, dl_Prostate, dl_Skin, dl_SmallIntestine, dl_Stomach, dl_Thyroid, dl_Uterus];
const nnlsFacetData = [nnls_Brain, nnls_Breast, nnls_Colon, nnls_Esophagus, nnls_Kidney, nnls_Liver, nnls_Lung, nnls_Ovary, nnls_Pancreas, nnls_Prostate, nnls_Skin, nnls_SmallIntestine, nnls_Stomach, nnls_Thyroid, nnls_Uterus];

const fa = buildFacets(PANEL_A, dlFacetData);
const fb = buildFacets(PANEL_B, nnlsFacetData);
txt(28.5, 5.8, 'Deep Learning Deconvolution GTEx Semi in Silico Correlation', 10.9);
txt(423.5, 5.8, 'NNLS Deconvolution GTEx Semi in Silico Correlation', 10.9);
txt(4.5, 12.8, 'A', 12.5);
txt(401.5, 12.8, 'B', 12.5);
txt(fa.cx, 326, 'True', 8.6, { align: 'center' });
txt(fb.cx, 326, 'True', 8.6, { align: 'center' });
txt(6.5, fa.cy, 'Predicted', 8.6, { align: 'center', rotation: Math.PI / 2 });
txt(398.5, fb.cy, 'Predicted', 8.6, { align: 'center', rotation: Math.PI / 2 });

const pc = buildBoxPanel({ left: 25, top: 352.3, width: 308.2, height: 182, ymin: 0.433, ymax: 1.023, cats: tsgCounts,
  boxDL: pccBoxDL, boxNNLS: pccBoxNNLS, ptsDL: pccPointsDL, ptsNNLS: pccPointsNNLS,
  major: [0.6, 1.0], minor: [0.5, 0.9], step: 0.2, digits: 1, legendX: 348, legendY: 428 });
const pd = buildBoxPanel({ left: 431, top: 352.3, width: 302.3, height: 182, ymin: -0.00075, ymax: 0.01925, cats: tsgCounts,
  boxDL: mseBoxDL, boxNNLS: mseBoxNNLS, ptsDL: msePointsDL, ptsNNLS: msePointsNNLS,
  major: [0, 0.015], minor: [0.0025, 0.0175], step: 0.005, digits: 3, legendX: 745.5, legendY: 428 });
txt(26, 342.5, 'Deep Learning vs NNLS Correlation Sensitivity', 10.9);
txt(431, 342.5, 'Deep Learning vs NNLS MSE Sensitivity', 10.9);
txt(4.5, 340, 'C', 12.5);
txt(409.5, 340, 'D', 12.5);
txt(pc.cx, 550.5, 'Number of random  TSGs  selected', 8.6, { align: 'center' });
txt(pd.cx, 550.5, 'Number of random  TSGs  selected', 8.6, { align: 'center' });
txt(6.5, pc.cy, 'PCC distribution', 8.6, { align: 'center', rotation: Math.PI / 2 });
txt(404, pd.cy, 'MSE distribution', 8.6, { align: 'center', rotation: Math.PI / 2 });

const chart = echarts.init(document.getElementById('c'), null, { renderer: 'canvas' });
chart.setOption({ animation: false, backgroundColor: '#ffffff', grid: grids, xAxis: xAxes, yAxis: yAxes, series, graphic: { elements: graphics } });
</script></body></html>
